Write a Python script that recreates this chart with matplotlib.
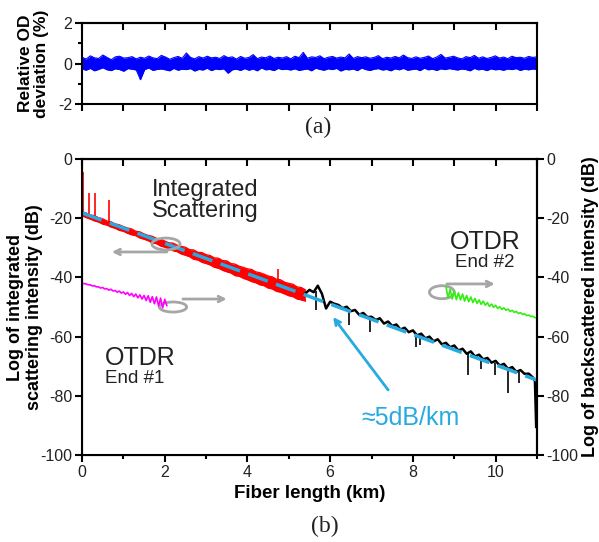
import numpy as np
import matplotlib
matplotlib.use("Agg")
import matplotlib.pyplot as plt
from matplotlib.patches import Ellipse

plt.rcParams["font.family"] = ["Liberation Sans", "DejaVu Sans"]
plt.rcParams["axes.unicode_minus"] = False

# =========================
# DATA
# =========================
# (a) relative optical density deviation along the fiber (%), upper / lower envelope
od_hi = [
    0.31, 0.22, 0.38, 0.28, 0.25, 0.42, 0.30, 0.19, 0.33, 0.36,
    0.27, 0.29, 0.34, 0.23, 0.31, 0.26, 0.37, 0.28, 0.24, 0.40,
    0.32, 0.21, 0.29, 0.35, 0.26, 0.52, 0.30, 0.23, 0.34, 0.27,
    0.36, 0.28, 0.31, 0.25, 0.39, 0.29, 0.33, 0.22, 0.35, 0.26,
    0.30, 0.44, 0.24, 0.32, 0.28, 0.37, 0.25, 0.31, 0.27, 0.34,
    0.23, 0.36, 0.29, 0.55, 0.26, 0.33, 0.30, 0.38, 0.24, 0.31,
    0.35, 0.27, 0.32, 0.28, 0.47, 0.25, 0.34, 0.29, 0.33, 0.26,
    0.30, 0.39, 0.24, 0.31, 0.27, 0.35, 0.28, 0.42, 0.29, 0.25,
    0.33, 0.26, 0.30, 0.37, 0.24, 0.32, 0.45, 0.27, 0.31, 0.36,
    0.28, 0.23, 0.34, 0.29, 0.40, 0.26, 0.33, 0.25, 0.30, 0.38,
    0.27, 0.32, 0.24, 0.36, 0.29, 0.31, 0.26, 0.35, 0.30, 0.33,
]
od_lo = [
    -0.27, -0.33, -0.24, -0.36, -0.29, -0.21, -0.31, -0.35, -0.26, -0.30,
    -0.38, -0.25, -0.28, -0.32, -0.80, -0.30, -0.22, -0.34, -0.29, -0.27,
    -0.31, -0.36, -0.24, -0.33, -0.28, -0.30, -0.25, -0.37, -0.29, -0.32,
    -0.23, -0.35, -0.27, -0.30, -0.26, -0.48, -0.31, -0.28, -0.34, -0.25,
    -0.33, -0.27, -0.36, -0.22, -0.31, -0.29, -0.35, -0.24, -0.30, -0.28,
    -0.32, -0.26, -0.34, -0.30, -0.27, -0.36, -0.23, -0.29, -0.33, -0.26,
    -0.30, -0.24, -0.37, -0.29, -0.31, -0.27, -0.35, -0.22, -0.30, -0.34,
    -0.28, -0.25, -0.32, -0.29, -0.36, -0.26, -0.31, -0.24, -0.33, -0.30,
    -0.27, -0.35, -0.23, -0.31, -0.28, -0.34, -0.26, -0.30, -0.25, -0.29,
    -0.32, -0.27, -0.30, -0.36, -0.24, -0.31, -0.28, -0.35, -0.26, -0.31,
    -0.29, -0.33, -0.27, -0.30, -0.25, -0.34, -0.28, -0.31, -0.27, -0.29,
]
od_x = np.linspace(0, 11, len(od_hi))

# (b) integrated scattering (left axis, dB), upper / lower envelope every 0.1 km
int_x = [round(0.1 * k, 1) for k in range(0, 55)]
int_hi = [
    -17.8, -18.2, -18.9, -19.1, -19.8, -20.2, -20.9, -21.2, -21.9, -22.2, -22.8,
    -23.3, -23.6, -24.4, -24.6, -25.3, -25.8, -26.1, -26.8, -27.0, -27.7,
    -28.3, -28.4, -29.1, -29.5, -29.8, -30.6, -30.7, -31.5, -31.6, -32.3,
    -32.6, -33.4, -33.5, -34.3, -34.4, -35.3, -35.5, -36.2, -36.6, -37.1,
    -37.3, -38.1, -38.4, -38.9, -39.5, -39.8, -40.6, -40.8, -41.6, -42.0,
    -42.3, -43.2, -43.4, -44.2,
]
int_lo = [
    -19.2, -19.8, -20.3, -20.9, -21.3, -22.0, -22.3, -23.0, -23.4, -24.1, -24.4,
    -25.1, -25.6, -25.9, -26.7, -27.1, -27.6, -28.4, -28.6, -29.4, -29.8,
    -30.3, -31.0, -31.3, -32.1, -32.5, -33.0, -33.9, -34.1, -34.9, -35.3,
    -35.8, -36.6, -36.9, -37.6, -38.1, -38.5, -39.4, -39.6, -40.3, -40.8,
    -41.4, -41.8, -42.5, -42.8, -43.6, -43.9, -44.7, -45.0, -45.6, -46.2,
    -46.5, -47.3, -47.6, -48.0,
]
int_spike_x = [0.02, 0.17, 0.31, 0.65, 4.73]
int_spike_top = [-4.4, -11.5, -11.5, -14.0, -37.0]
int_spike_bot = [-18.5, -19.2, -19.8, -21.6, -42.5]

# continuation of the scattering trace past the first section
cont_x = [5.4, 5.5, 5.6, 5.7, 5.8, 5.9, 6.0, 6.1, 6.2, 6.3, 6.4, 6.5, 6.6, 6.7, 6.8, 6.9,
          7.0, 7.1, 7.2, 7.3, 7.4, 7.5, 7.6, 7.7, 7.8, 7.9, 8.0, 8.1, 8.2, 8.3, 8.4, 8.5,
          8.6, 8.7, 8.8, 8.9, 9.0, 9.1, 9.2, 9.3, 9.4, 9.5, 9.6, 9.7, 9.8, 9.9, 10.0,
          10.1, 10.2, 10.3, 10.4, 10.5, 10.6, 10.7, 10.8, 10.9, 10.95, 10.98]
cont_y = [-45.4, -44.2, -45.0, -42.8, -45.5, -50.5, -48.2, -48.9, -49.3, -50.4, -49.9, -51.4,
          -51.0, -52.6, -52.0, -53.4, -53.3, -54.4, -53.8, -55.6, -54.9, -56.4, -55.9, -57.6,
          -57.0, -58.5, -57.9, -59.6, -59.0, -60.6, -60.0, -61.6, -60.9, -62.6, -62.1, -63.6,
          -63.0, -64.7, -64.1, -65.8, -65.0, -66.7, -66.1, -67.7, -67.2, -68.8, -68.2, -69.8,
          -69.2, -70.9, -70.3, -71.9, -71.3, -72.6, -72.5, -73.8, -75.0, -90.5]
cont_spike_x = [5.65, 6.45, 6.96, 8.07, 8.16, 9.32, 9.64, 9.98, 10.3, 10.56]
cont_spike_top = [-44.5, -50.5, -53.2, -58.8, -59.3, -65.5, -67.2, -68.8, -70.5, -71.8]
cont_spike_bot = [-51.0, -56.0, -58.5, -63.5, -63.0, -73.0, -71.0, -73.0, -79.0, -75.7]

# linear fit, ~5 dB/km
fit_x = [0.0, 11.0]
fit_y = [-18.2, -74.7]

# OTDR traces (right axis, dB)
otdr1_x = [round(0.05 * k, 2) for k in range(0, 42)]
otdr1_y = [-41.9, -42.1, -42.2, -42.5, -42.5, -42.9, -42.8, -43.2, -43.2, -43.6, -43.4,
           -43.9, -43.8, -44.3, -44.0, -44.6, -44.4, -45.0, -44.6, -45.3, -44.9, -45.7,
           -45.1, -46.1, -45.4, -46.5, -45.6, -46.9, -45.9, -47.3, -46.1, -47.8, -46.2,
           -48.4, -46.5, -48.9, -46.6, -49.6, -47.0, -50.3, -47.4, -49.5]

otdr2_x = [round(8.8 + 0.05 * k, 2) for k in range(0, 45)]
otdr2_y = [-43.2, -47.0, -44.0, -47.3, -44.6, -47.5, -45.2, -47.6, -45.6, -48.0, -46.1,
           -48.2, -46.6, -48.5, -47.1, -48.8, -47.6, -49.1, -48.0, -49.4, -48.5, -49.8,
           -49.0, -50.1, -49.4, -50.5, -49.9, -50.8, -50.3, -51.1, -50.7, -51.5, -51.1,
           -51.8, -51.5, -52.2, -51.9, -52.5, -52.3, -52.9, -52.7, -53.2, -53.1, -53.6,
           -53.7]

GRAY = "#a6a6a6"
CYAN = "#27aae1"
TXT = "#222222"

# =========================
# FIGURE
# =========================
fig = plt.figure(figsize=(5.99, 5.42), dpi=100)
ax_a = fig.add_axes([0.1369, 0.8081, 0.7596, 0.1494])
ax_b = fig.add_axes([0.1369, 0.1605, 0.7596, 0.5461])


def style_axes(ax):
    for s in ax.spines.values():
        s.set_linewidth(1.5)
    ax.tick_params(which="both", direction="out", width=1.5, labelsize=11.5,
                   labelcolor=TXT, pad=2)
    ax.tick_params(which="major", length=5)
    ax.tick_params(which="minor", length=3)
    top = ax.secondary_xaxis("top")
    top.set_xticks(range(12))
    top.tick_params(direction="in", length=5, width=1.5, labeltop=False)
    top.spines["top"].set_linewidth(1.5)


# ---- (a) ----
ax_a.fill_between(od_x, od_lo, od_hi, color="#0000ff", lw=0)
ax_a.plot(od_x, od_hi, color="#0000ff", lw=0.8)
ax_a.plot(od_x, od_lo, color="#0000ff", lw=0.8)
ax_a.set_xlim(0, 11)
ax_a.set_ylim(-2, 2)
ax_a.set_yticks([-2, 0, 2])
ax_a.set_yticks([-1, 1], minor=True)
ax_a.set_xticks(range(12))
ax_a.set_xticklabels([])
style_axes(ax_a)
ax_a.set_ylabel("Relative OD\ndeviation (%)", fontsize=12.5, fontweight="bold",
                linespacing=1.1)
ax_a.yaxis.set_label_coords(-0.072, 0.5)
fig.text(0.531, 0.764, "(a)", family="Liberation Serif", fontsize=17,
         ha="center", va="center", color=TXT)

# ---- (b) ----
ax_b.fill_between(int_x, int_lo, int_hi, color="#ff0000", lw=0, zorder=2)
ax_b.plot(int_x, int_hi, color="#ff0000", lw=0.9, zorder=2)
ax_b.plot(int_x, int_lo, color="#ff0000", lw=0.9, zorder=2)
ax_b.vlines(int_spike_x, int_spike_bot, int_spike_top, color="#ff0000", lw=1.2, zorder=2)
ax_b.plot(cont_x, cont_y, color="black", lw=1.8, zorder=2)
ax_b.vlines(cont_spike_x, cont_spike_bot, cont_spike_top, color="black", lw=1.2, zorder=2)
ax_b.plot(fit_x, fit_y, color=CYAN, lw=2.5, dashes=(6, 2.5), zorder=3)

ax_b.set_xlim(0, 11)
ax_b.set_ylim(-100, 0)
ax_b.set_xticks([0, 2, 4, 6, 8, 10])
ax_b.set_xticks([1, 3, 5, 7, 9, 11], minor=True)
ax_b.set_yticks(range(-100, 1, 20))
style_axes(ax_b)
ax_b.set_xlabel("Fiber length (km)", fontsize=13.5, fontweight="bold", labelpad=4)
ax_b.set_ylabel("Log of integrated\nscattering intensity (dB)", fontsize=13,
                fontweight="bold", linespacing=1.15)
ax_b.yaxis.set_label_coords(-0.085, 0.5)

ax_r = ax_b.twinx()
ax_r.plot(otdr1_x, otdr1_y, color="#ff00ff", lw=1.2)
ax_r.plot(otdr2_x, otdr2_y, color="#33ee11", lw=1.2)
ax_r.set_ylim(-100, 0)
ax_r.set_yticks(range(-100, 1, 20))
ax_r.tick_params(direction="out", length=5, width=1.5, labelsize=11.5, labelcolor=TXT,
                 pad=2)
ax_r.spines["right"].set_linewidth(1.5)
ax_r.set_ylabel("Log of backscattered intensity (dB)", fontsize=13, fontweight="bold")
ax_r.yaxis.set_label_coords(1.098, 0.5)

# gray markers: ellipse around a trace, arrow towards its axis
marks = [((2.03, -28.7), 0.68, 4.0, (2.05, -31.4), (0.72, -31.4)),
         ((2.2, -50.0), 0.66, 3.4, (2.44, -47.3), (3.5, -47.3)),
         ((8.7, -45.0), 0.6, 4.4, (8.82, -42.2), (9.98, -42.2))]
for center, w, h, tail, head in marks:
    ax_b.add_patch(Ellipse(center, w, h, fill=False, ec=GRAY, lw=2, zorder=4))
    ax_b.annotate("", xy=head, xytext=tail,
                  arrowprops=dict(arrowstyle="->", color=GRAY, lw=2,
                                  shrinkA=0, shrinkB=0))

ax_b.text(2.97, -13.9, "Integrated\nScattering", fontsize=17, color=TXT,
          ha="center", va="center", linespacing=0.95)
ax_b.text(0.55, -67.2, "OTDR", fontsize=18, color=TXT, ha="left", va="center")
ax_b.text(0.55, -74.0, "End #1", fontsize=13.5, color=TXT, ha="left", va="center")
ax_b.text(9.74, -28.0, "OTDR", fontsize=18, color=TXT, ha="center", va="center")
ax_b.text(9.74, -34.8, "End #2", fontsize=13.5, color=TXT, ha="center", va="center")

ax_b.text(7.93, -87.5, "\u22485dB/km", fontsize=18, color=CYAN, ha="center", va="center")
ax_b.annotate("", xy=(6.07, -53.4), xytext=(7.4, -78.0),
              arrowprops=dict(arrowstyle="->", color=CYAN, lw=2,
                              shrinkA=0, shrinkB=0))

fig.text(0.543, 0.028, "(b)", family="Liberation Serif", fontsize=17,
         ha="center", va="center", color=TXT)

fig.savefig("out.png", dpi=100)
